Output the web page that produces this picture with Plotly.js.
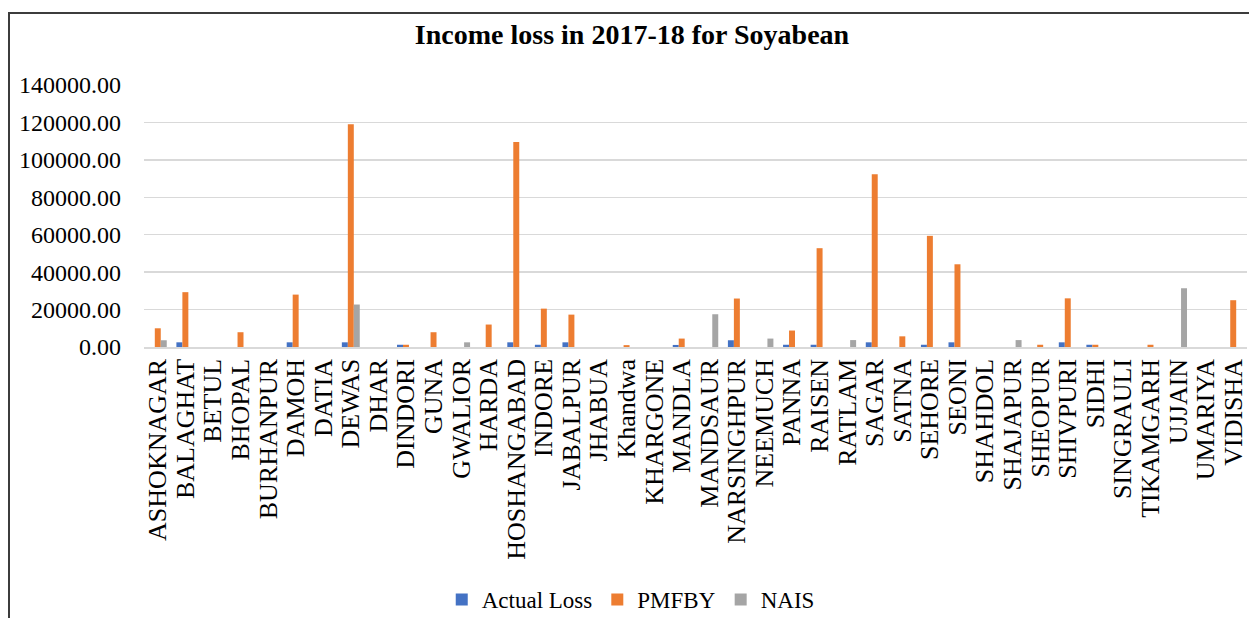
<!DOCTYPE html>
<html>
<head>
<meta charset="utf-8">
<script src="https://cdn.plot.ly/plotly-3.0.1.min.js"></script>
<style>
  html, body { margin: 0; padding: 0; background: #fff; overflow: hidden; }
  #chart { position: absolute; left: 0; top: 0; width: 1249px; height: 618px; }
  #frame { position: absolute; left: 8px; top: 12px; width: 1300px; height: 700px;
           border: 2px solid #3c3c3c; pointer-events: none; box-sizing: border-box; }
</style>
</head>
<body>
<div id="chart"></div>
<div id="frame"></div>
<script>
const districts = ["ASHOKNAGAR","BALAGHAT","BETUL","BHOPAL","BURHANPUR","DAMOH","DATIA","DEWAS","DHAR","DINDORI",
  "GUNA","GWALIOR","HARDA","HOSHANGABAD","INDORE","JABALPUR","JHABUA","Khandwa","KHARGONE","MANDLA",
  "MANDSAUR","NARSINGHPUR","NEEMUCH","PANNA","RAISEN","RATLAM","SAGAR","SATNA","SEHORE","SEONI",
  "SHAHDOL","SHAJAPUR","SHEOPUR","SHIVPURI","SIDHI","SINGRAULI","TIKAMGARH","UJJAIN","UMARIYA","VIDISHA"];

const actualLoss = [0,2500,0,0,0,2500,0,2500,0,1200,
  0,0,0,2500,1200,2500,0,0,0,1100,
  0,3600,0,1200,1200,0,2500,0,1200,2500,
  0,0,0,2500,1200,0,0,0,0,0];

const pmfby = [10000,29300,0,7900,0,28000,0,119000,0,1200,
  7900,0,12000,109500,20500,17300,0,1000,0,4500,
  0,25900,0,8800,52800,0,92300,5700,59400,44200,
  0,0,1200,26000,1200,0,1200,0,0,25000];

const nais = [3600,0,0,0,0,0,0,22700,0,0,
  0,2500,0,0,0,0,0,0,0,0,
  17500,0,4500,0,0,3700,0,0,0,0,
  0,3700,0,0,0,0,0,31400,0,0];

const seriesNames = ["Actual Loss","PMFBY","NAIS"];
const seriesColors = ["#4472C4","#ED7D31","#A5A5A5"];
const seriesValues = [actualLoss, pmfby, nais];

const serif = "'Liberation Serif', 'Times New Roman', serif";

const traces = seriesValues.map((vals, i) => ({
  type: "bar",
  name: seriesNames[i],
  x: districts,
  y: vals,
  marker: { color: seriesColors[i] },
  hoverinfo: "x+y+name"
}));

const layout = {
  width: 1249, height: 618,
  margin: { l: 144, r: 2, t: 85, b: 271 },
  paper_bgcolor: "#ffffff",
  plot_bgcolor: "#ffffff",
  barmode: "group",
  bargap: 0.35,
  bargroupgap: 0,
  title: {
    text: "<b>Income loss in 2017-18 for Soyabean</b>",
    font: { family: serif, size: 28, color: "#000" },
    x: 0.506, xref: "container", xanchor: "center",
    y: 0.945, yref: "container", yanchor: "middle"
  },
  xaxis: {
    type: "category",
    tickmode: "array",
    tickvals: districts,
    ticktext: districts,
    tickangle: -90,
    tickfont: { family: serif, size: 26, color: "#000" },
    showgrid: false,
    showline: true, linecolor: "#d9d9d9", linewidth: 1.5,
    ticks: "", automargin: false
  },
  yaxis: {
    range: [0, 140000],
    dtick: 20000,
    tickformat: ".2f",
    tickfont: { family: serif, size: 24, color: "#000" },
    showgrid: true, gridcolor: "#d9d9d9", gridwidth: 1.5,
    zeroline: false, showline: false,
    ticks: "", ticklabelstandoff: 22, automargin: false
  },
  showlegend: true,
  legend: {
    orientation: "h",
    x: 0.505, xref: "container", xanchor: "center",
    y: 0.03, yref: "container", yanchor: "middle",
    font: { family: serif, size: 23, color: "#000" },
    itemwidth: 30,
    traceorder: "normal"
  }
};

Plotly.newPlot("chart", traces, layout, { displayModeBar: false, staticPlot: true });
</script>
</body>
</html>
